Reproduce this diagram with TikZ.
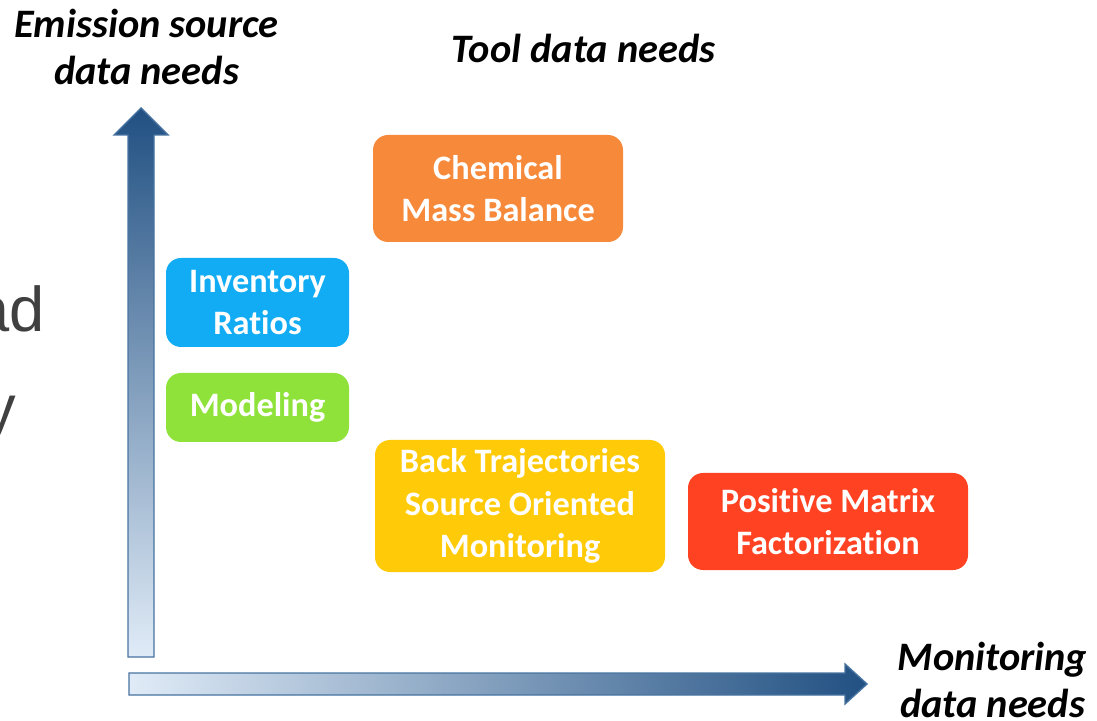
\documentclass[tikz,border=0pt]{standalone}
\usepackage{fontspec}
\setmainfont{Carlito}[Ligatures=NoCommon]
\newfontfamily\slidefont{Liberation Sans}
\usepackage{tikz}
\usetikzlibrary{positioning}
\definecolor{axDark}{RGB}{33,80,130}
\definecolor{axLight}{RGB}{224,235,247}
\definecolor{axEdge}{RGB}{70,115,160}
\definecolor{cmbOrange}{RGB}{247,137,59}
\definecolor{invBlue}{RGB}{18,172,245}
\definecolor{modGreen}{RGB}{142,226,58}
\definecolor{btYellow}{RGB}{255,202,8}
\definecolor{pmfRed}{RGB}{255,66,34}
\definecolor{slideGray}{RGB}{64,64,64}

\begin{document}
\begin{tikzpicture}[
    tool/.style={rectangle, rounded corners=0.3cm, text=white, align=center,
      font=\bfseries\fontsize{19.5}{24}\selectfont, inner sep=0pt},
    axislabel/.style={align=center, font=\bfseries\itshape\fontsize{23}{26.5}\selectfont},
    slidetext/.style={anchor=base east, inner sep=0pt, text=slideGray, font=\slidefont\fontsize{36}{40}\selectfont}
  ]
  \clip (0,0) rectangle (21.94,14.4);

  % leftover slide text
  \node[slidetext] (slideA) at (0.9,7.76) {ad};
  \node[slidetext] (slideB) at (0.32,5.8) {y};

  % Axes
  \shadedraw[top color=axDark, bottom color=axLight, draw=axEdge, line width=0.8pt]
    (2.56,1.26) -- (2.56,11.7) -- (2.28,11.7) -- (2.82,12.24) -- (3.36,11.7)
    -- (3.08,11.7) -- (3.08,1.26) -- cycle;
  \shadedraw[left color=axLight, right color=axDark, draw=axEdge, line width=0.8pt]
    (2.58,0.5) -- (16.9,0.5) -- (16.9,0.32) -- (17.34,0.72) -- (16.9,1.12)
    -- (16.9,0.94) -- (2.58,0.94) -- cycle;

  \node[axislabel] (ylabel) at (2.93,13.46) {Emission source\\data needs};
  \node[axislabel] (tlabel) at (11.67,13.44) {Tool data needs};
  \node[axislabel] (xlabel) at (19.85,0.8) {Monitoring\\data needs};

  % Tools
  \node[tool, fill=cmbOrange, minimum width=5cm, minimum height=2.14cm] (cmb) at (9.96,10.63) {Chemical\\Mass Balance};
  \node[tool, fill=invBlue, minimum width=3.66cm, minimum height=1.78cm] (inv) at (5.15,8.35) {Inventory\\Ratios};
  \node[tool, fill=modGreen, minimum width=3.66cm, minimum height=1.38cm] (mod) at (5.15,6.25) {Modeling};
  \node[tool, fill=btYellow, minimum width=5.8cm, minimum height=2.64cm] (bt) at (10.4,4.28) {Back Trajectories\\Source Oriented\\Monitoring};
  \node[tool, fill=pmfRed, minimum width=5.6cm, minimum height=1.94cm] (pmf) at (16.56,3.97) {Positive Matrix\\Factorization};
\end{tikzpicture}
\end{document}
